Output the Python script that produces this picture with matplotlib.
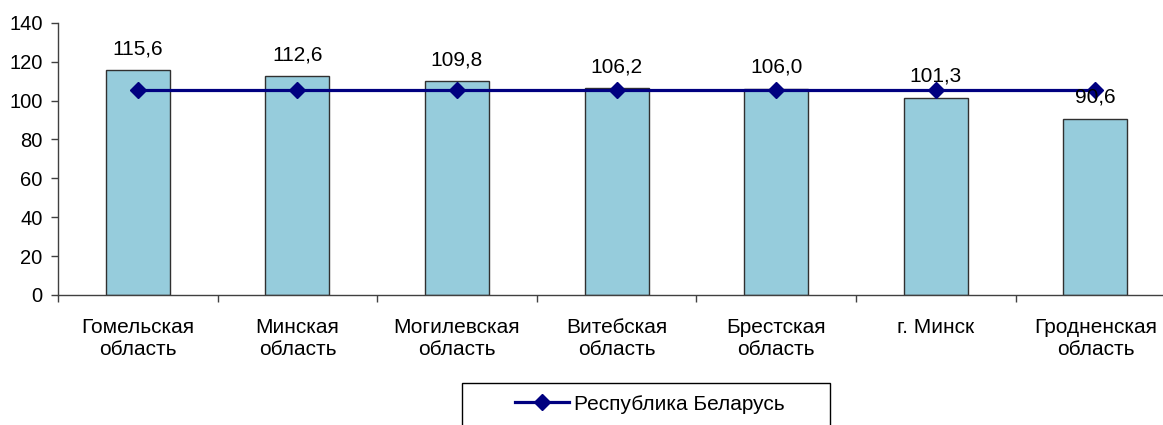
import matplotlib
matplotlib.use("Agg")
import matplotlib.pyplot as plt
from matplotlib.patches import Rectangle
import numpy as np

plt.rcParams['font.family'] = ['Liberation Sans', 'DejaVu Sans']

categories = ["Гомельская\nобласть", "Минская\nобласть", "Могилевская\nобласть",
              "Витебская\nобласть", "Брестская\nобласть", "г. Минск",
              "Гродненская\nобласть"]
region_values = [115.6, 112.6, 109.8, 106.2, 106.0, 101.3, 90.6]
region_labels = ["115,6", "112,6", "109,8", "106,2", "106,0", "101,3", "90,6"]
republic_value = 105.3
republic_name = "Республика Беларусь"
y_ticks = [0, 20, 40, 60, 80, 100, 120, 140]

W, H = 1163, 425
fig = plt.figure(figsize=(W / 100, H / 100), dpi=100)
left, right, bottom, top = 58, 58 + 7 * 159.6, 295, 22.7
ax = fig.add_axes([left / W, 1 - bottom / H, (right - left) / W, (bottom - top) / H])

x = np.arange(len(categories))
ax.bar(x, region_values, width=0.4, color='#96CCDC', edgecolor='#303030', linewidth=1, zorder=2)
ax.plot(x, [republic_value] * len(x), color='#000080', linewidth=2.3, marker='D',
        markersize=8.5, zorder=4, label=republic_name)

for xi, v, lab in zip(x, region_values, region_labels):
    ax.annotate(lab, (xi, v), xytext=(0, 11.5), textcoords='offset points',
                ha='center', va='baseline', fontsize=15, color='black', zorder=5)

ax.set_xlim(-0.5, len(categories) - 0.5)
ax.set_ylim(0, 140)
ax.set_yticks(y_ticks)
ax.set_yticklabels([str(t) for t in y_ticks], fontsize=14.5)
ax.set_xticks(x)
ax.set_xticklabels(categories, fontsize=15, linespacing=1.2)
ax.set_xticks(np.arange(len(categories) + 1) - 0.5, minor=True)
ax.tick_params(axis='x', which='major', length=0, pad=16.5)
ax.tick_params(axis='x', which='minor', length=5, width=1, color='#404040', direction='out')
ax.tick_params(axis='y', length=5, width=1, color='#404040', pad=6)

for s in ['top', 'right']:
    ax.spines[s].set_visible(False)
for s in ['left', 'bottom']:
    ax.spines[s].set_color('#404040')
    ax.spines[s].set_linewidth(1)

leg = fig.legend(loc='center', bbox_to_anchor=(650 / W, 1 - 404 / H), frameon=False,
                 fontsize=15, handlelength=2.6, handletextpad=0.25)

fig.patches.append(Rectangle((462 / W, 1 - 426 / H), 368 / W, 43 / H,
                             transform=fig.transFigure, fill=False,
                             edgecolor='black', linewidth=1))

fig.savefig("out.png", dpi=100)
